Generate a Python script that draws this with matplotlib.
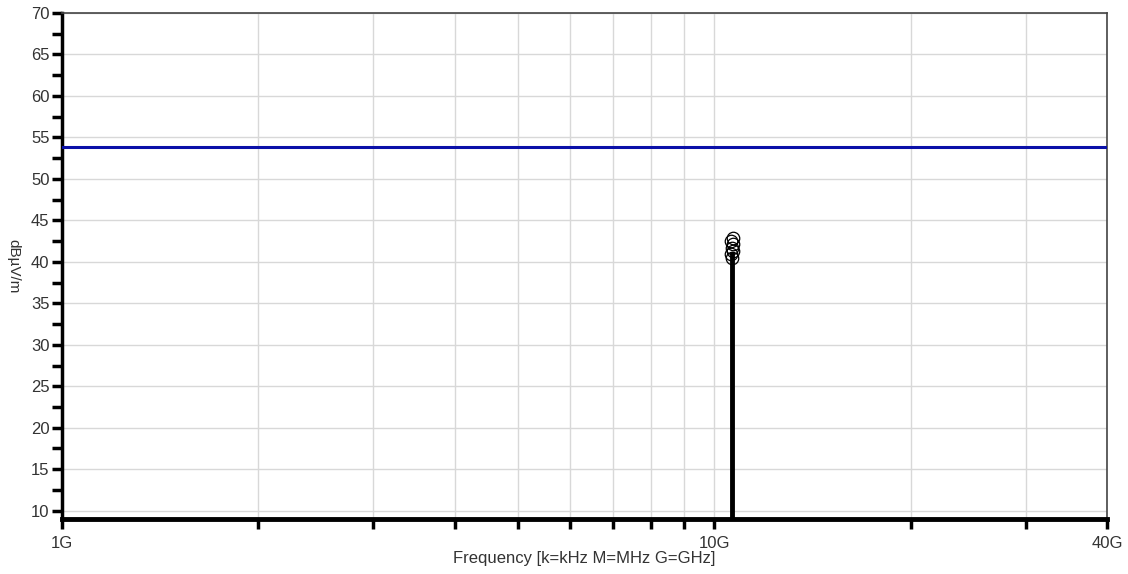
import matplotlib.pyplot as plt
from matplotlib.ticker import FixedLocator, MultipleLocator, NullFormatter

# limit line (dBuV/m) across the whole band
limit_freq_ghz = [1.0, 40.0]
limit_level = [53.9, 53.9]

# peak readings around the single emission
peak_freq_ghz = [10.68, 10.62, 10.70, 10.64, 10.69, 10.61, 10.66]
peak_level = [42.9, 42.5, 42.1, 41.7, 41.3, 40.9, 40.5]

# spectrum trace: one spike above the floor
trace_freq_ghz = [10.65, 10.65]
trace_level = [9.0, 41.0]

x_ticks = [1, 2, 3, 4, 5, 6, 7, 8, 9, 10, 20, 30, 40]
x_labels = {1: "1G", 10: "10G", 40: "40G"}

plt.rcParams["font.family"] = ["Liberation Sans", "DejaVu Sans"]

fig = plt.figure(figsize=(11.28, 5.74), dpi=100)
ax = fig.add_axes([62 / 1128, 1 - 519 / 574, 1045 / 1128, 506 / 574])

ax.plot(limit_freq_ghz, limit_level, color="#0a10a8", lw=2.2, zorder=3)
ax.plot(trace_freq_ghz, trace_level, color="black", lw=3.5, zorder=4)
ax.plot(peak_freq_ghz, peak_level, linestyle="none", marker="o",
        markersize=9, markerfacecolor="none", markeredgecolor="black",
        markeredgewidth=0.9, zorder=5)

ax.set_xscale("log")
ax.set_xlim(1, 40)
ax.set_ylim(9, 70)

ax.xaxis.set_major_locator(FixedLocator(x_ticks))
ax.xaxis.set_minor_locator(FixedLocator([]))
ax.set_xticklabels([x_labels.get(t, "") for t in x_ticks])
ax.yaxis.set_major_locator(FixedLocator(list(range(10, 71, 5))))
ax.yaxis.set_minor_locator(MultipleLocator(2.5))
ax.yaxis.set_minor_formatter(NullFormatter())

ax.grid(True, which="major", color="#d8d8d8", lw=1.0, zorder=0)

ax.spines["bottom"].set_linewidth(3.5)
ax.spines["left"].set_linewidth(2.5)
ax.spines["top"].set_linewidth(1.2)
ax.spines["right"].set_linewidth(1.2)
ax.spines["top"].set_color("#444444")
ax.spines["right"].set_color("#444444")

ax.tick_params(axis="both", which="major", length=7, width=2.5,
               labelsize=12, labelcolor="#333333", color="black")
ax.tick_params(axis="y", which="major", pad=2)
ax.tick_params(axis="x", which="major", pad=5)
ax.tick_params(axis="y", which="minor", length=7, width=2.5, color="black")

ax.set_xlabel("Frequency [k=kHz M=MHz G=GHz]", fontsize=12,
              color="#333333")
ax.xaxis.set_label_coords(0.5, -0.064)
ax.set_ylabel("dBµV/m", fontsize=11, color="#333333", rotation=270)
ax.yaxis.set_label_coords(-0.053, 0.5)

fig.savefig("out.png", dpi=100)
